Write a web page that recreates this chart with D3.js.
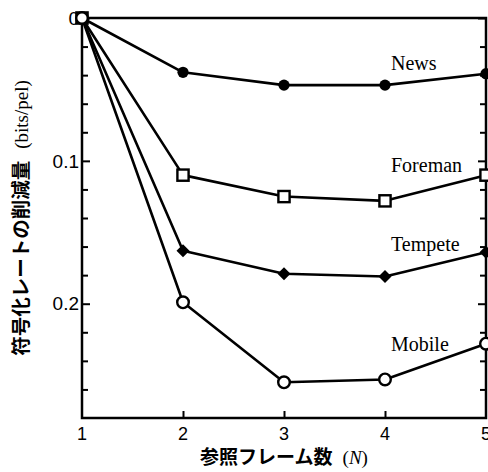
<!DOCTYPE html>
<html><head><meta charset="utf-8">
<script src="https://cdn.jsdelivr.net/npm/d3@7"></script>
<style>body{margin:0;background:#fff}svg{display:block}</style>
</head><body>
<script>
// ---- data ----
const frames = [1, 2, 3, 4, 5];
const news    = [0, 0.038, 0.047, 0.047, 0.039];
const foreman = [0, 0.110, 0.125, 0.128, 0.110];
const tempete = [0, 0.163, 0.179, 0.181, 0.164];
const mobile  = [0, 0.199, 0.255, 0.253, 0.228];
const seriesNames = ["News", "Foreman", "Tempete", "Mobile"];
const xTickLabels = ["1", "2", "3", "4", "5"];
const yTickValues = [0, 0.1, 0.2];
const yTickLabels = ["0", "0.1", "0.2"];
const yMinorTicks = [0.02,0.04,0.06,0.08,0.12,0.14,0.16,0.18,0.22,0.24,0.26];
const xTitle = "参照フレーム数";
const yTitle = "符号化レートの削減量";

// ---- layout ----
const W = 488, H = 472;
const L = 82, R = 486, T = 18, B = 418;
const svg = d3.select("body").append("svg").attr("width", W).attr("height", H);

const x = d3.scaleLinear().domain([1, 5]).range([L, R]);
const y = d3.scaleLinear().domain([0, 0.28]).range([T, B]);

const series = [
  {name: seriesNames[0], vals: news,    marker: "dot",     labelY: 70},
  {name: seriesNames[1], vals: foreman, marker: "square",  labelY: 172},
  {name: seriesNames[2], vals: tempete, marker: "diamond", labelY: 251},
  {name: seriesNames[3], vals: mobile,  marker: "ring",    labelY: 351}
];

// axes (inward ticks)
const yAxisL = d3.axisRight(y).tickValues(yTickValues).tickSize(8).tickFormat("");
const yAxisLMinor = d3.axisRight(y).tickValues(yMinorTicks).tickSize(6).tickFormat("");
const yAxisR = d3.axisLeft(y).tickValues(yTickValues).tickSize(8).tickFormat("");
const yAxisRMinor = d3.axisLeft(y).tickValues(yMinorTicks).tickSize(6).tickFormat("");
const xAxisB = d3.axisTop(x).tickValues([2,3,4]).tickSize(7).tickFormat("");

function styleAxis(g){
  g.select(".domain").remove();
  g.selectAll(".tick line").attr("stroke", "#000").attr("stroke-width", 2);
}
svg.append("g").attr("transform", `translate(${L},0)`).call(yAxisL).call(styleAxis);
svg.append("g").attr("transform", `translate(${L},0)`).call(yAxisLMinor).call(styleAxis);
svg.append("g").attr("transform", `translate(${R},0)`).call(yAxisR).call(styleAxis);
svg.append("g").attr("transform", `translate(${R},0)`).call(yAxisRMinor).call(styleAxis);
svg.append("g").attr("transform", `translate(0,${B})`).call(xAxisB).call(styleAxis);

// frame
svg.append("rect").attr("x", L).attr("y", T).attr("width", R - L).attr("height", B - T)
  .attr("fill", "none").attr("stroke", "#000").attr("stroke-width", 2.5);

// tick labels
svg.append("g").selectAll("text").data(yTickValues).join("text")
  .attr("x", L - 3).attr("y", d => y(d)).attr("dy", "0.35em")
  .attr("text-anchor", "end")
  .attr("font-family", "'Liberation Sans', Arial, sans-serif").attr("font-size", 19)
  .text((d, i) => yTickLabels[i]);

svg.append("g").selectAll("text").data(frames).join("text")
  .attr("x", d => x(d)).attr("y", 440)
  .attr("text-anchor", "middle")
  .attr("font-family", "'Liberation Sans', Arial, sans-serif").attr("font-size", 18)
  .text((d, i) => xTickLabels[i]);

// lines
const line = d3.line().x((d, i) => x(frames[i])).y(d => y(d));
svg.append("g").selectAll("path").data(series).join("path")
  .attr("d", s => line(s.vals))
  .attr("fill", "none").attr("stroke", "#000").attr("stroke-width", 2.6)
  .attr("stroke-linejoin", "round");

// markers
series.forEach(s => {
  const g = svg.append("g");
  s.vals.forEach((v, i) => {
    const cx = x(frames[i]), cy = y(v);
    if (s.marker === "dot") {
      g.append("circle").attr("cx", cx).attr("cy", cy).attr("r", 5.6).attr("fill", "#000");
    } else if (s.marker === "ring") {
      g.append("circle").attr("cx", cx).attr("cy", cy).attr("r", 5.8)
        .attr("fill", "#fff").attr("stroke", "#000").attr("stroke-width", 2.4);
    } else if (s.marker === "square") {
      g.append("rect").attr("x", cx - 5.6).attr("y", cy - 5.6).attr("width", 11.2).attr("height", 11.2)
        .attr("fill", "#fff").attr("stroke", "#000").attr("stroke-width", 2.4);
    } else {
      g.append("path").attr("d", `M${cx},${cy-6.5}L${cx+6.5},${cy}L${cx},${cy+6.5}L${cx-6.5},${cy}Z`)
        .attr("fill", "#000");
    }
  });
});

// series labels
svg.append("g").selectAll("text").data(series).join("text")
  .attr("x", 391).attr("y", s => s.labelY)
  .attr("font-family", "'Liberation Serif', 'Times New Roman', serif").attr("font-size", 20)
  .text(s => s.name);

// axis titles
const xt = svg.append("text").attr("x", (L + R) / 2).attr("y", 464).attr("text-anchor", "middle");
xt.append("tspan").attr("font-family", "'Noto Sans CJK JP', sans-serif").attr("font-weight", "bold")
  .attr("font-size", 19).text(xTitle);
xt.append("tspan").attr("dx", 10).attr("font-family", "'Liberation Serif', serif").attr("font-size", 19)
  .text("(");
xt.append("tspan").attr("font-family", "'Liberation Serif', serif").attr("font-style", "italic").attr("font-size", 19)
  .text("N");
xt.append("tspan").attr("font-family", "'Liberation Serif', serif").attr("font-size", 19).text(")");

const ytt = svg.append("text").attr("transform", `translate(28,${(T + B) / 2}) rotate(-90)`)
  .attr("text-anchor", "middle");
ytt.append("tspan").attr("font-family", "'Noto Sans CJK JP', sans-serif").attr("font-weight", "bold")
  .attr("font-size", 19.5).text(yTitle);
ytt.append("tspan").attr("dx", 12).attr("font-family", "'Liberation Serif', serif").attr("font-size", 19)
  .text("(bits/pel)");
</script>
</body></html>
